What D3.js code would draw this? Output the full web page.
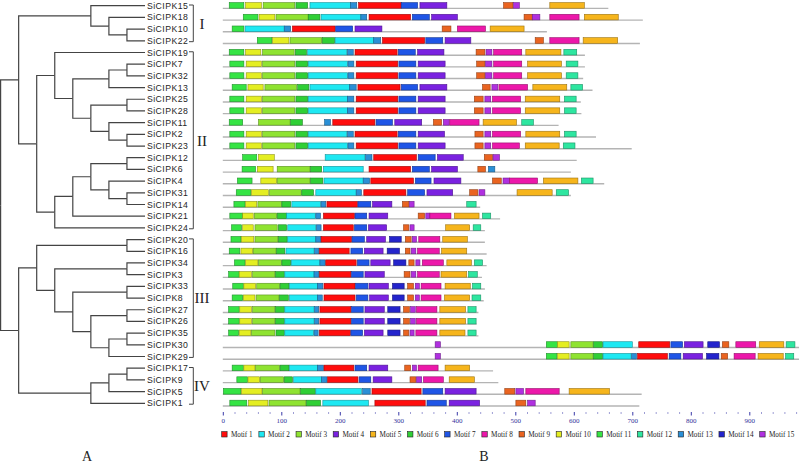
<!DOCTYPE html>
<html><head><meta charset="utf-8">
<script src="https://cdn.jsdelivr.net/npm/d3@7"></script>
<style>html,body{margin:0;padding:0;background:#fff;}svg{display:block;}</style>
</head><body>
<svg id="c" width="800" height="463"></svg>
<script>
// ---------- DATA ----------
const treeNewick = "(((SiCIPK15,(SiCIPK18,(SiCIPK10,SiCIPK22))),((SiCIPK19,(((SiCIPK7,SiCIPK32),SiCIPK13),((SiCIPK25,SiCIPK28),(SiCIPK11,(SiCIPK2,SiCIPK23))))),((((SiCIPK12,SiCIPK6),(SiCIPK4,(SiCIPK31,SiCIPK14))),SiCIPK21),SiCIPK24))),(((SiCIPK20,SiCIPK16),((SiCIPK34,SiCIPK3),((SiCIPK33,SiCIPK8),((SiCIPK27,SiCIPK26),((SiCIPK35,SiCIPK30),SiCIPK29))))),(((SiCIPK17,SiCIPK9),SiCIPK5),SiCIPK1)));";

const genes = ["SiCIPK15","SiCIPK18","SiCIPK10","SiCIPK22","SiCIPK19","SiCIPK7","SiCIPK32","SiCIPK13","SiCIPK25","SiCIPK28","SiCIPK11","SiCIPK2","SiCIPK23","SiCIPK12","SiCIPK6","SiCIPK4","SiCIPK31","SiCIPK14","SiCIPK21","SiCIPK24","SiCIPK20","SiCIPK16","SiCIPK34","SiCIPK3","SiCIPK33","SiCIPK8","SiCIPK27","SiCIPK26","SiCIPK35","SiCIPK30","SiCIPK29","SiCIPK17","SiCIPK9","SiCIPK5","SiCIPK1"];

const proteinLengths = [659,718,554,713,619,619,616,632,612,613,574,638,699,605,595,652,595,440,474,448,448,451,451,443,448,446,437,434,437,985,985,462,471,716,712];

// [motif number, start aa, end aa] for each gene, same order as genes
const motifSites = [
 [[11,11,36],[10,39,66],[3,69,123],[6,125,145],[2,149,218],[13,218,229],[1,232,305],[7,305,333],[4,337,383],[9,480,496],[15,497,507],[5,559,618]],
 [[11,35,60],[10,62,89],[3,91,146],[6,146,166],[2,168,236],[13,236,246],[1,250,321],[7,324,353],[4,357,401],[9,515,529],[15,529,542],[8,559,609],[5,618,676]],
 [[11,16,36],[2,38,105],[13,105,116],[1,119,192],[7,193,222],[4,226,272],[9,375,390],[8,401,449],[5,457,515]],
 [[11,59,84],[10,85,113],[3,115,169],[6,170,191],[2,192,258],[13,258,270],[1,273,345],[7,347,376],[4,380,424],[9,534,548],[8,559,609],[5,616,675]],
 [[11,11,36],[10,39,65],[3,68,122],[6,124,143],[2,145,212],[13,213,223],[1,226,298],[7,300,329],[4,333,378],[9,433,448],[15,450,460],[8,463,511],[5,518,578],[12,583,605]],
 [[11,12,36],[10,40,66],[3,68,123],[6,125,145],[2,146,213],[13,214,224],[1,228,299],[7,301,330],[4,334,380],[9,434,448],[15,449,460],[8,463,511],[5,521,579],[12,587,607]],
 [[11,12,36],[10,40,66],[3,68,123],[6,125,145],[2,146,213],[13,214,224],[1,228,299],[7,301,330],[4,334,380],[9,434,448],[15,449,460],[8,463,511],[5,521,579],[12,587,607]],
 [[11,16,40],[10,43,69],[3,72,126],[6,128,147],[2,149,217],[13,217,228],[1,231,303],[7,305,333],[4,337,383],[9,444,457],[15,460,470],[8,472,521],[5,530,588],[12,595,615]],
 [[11,12,36],[10,40,66],[3,68,123],[6,125,145],[2,146,213],[13,213,224],[1,228,299],[7,301,330],[4,334,380],[9,430,445],[15,448,458],[8,461,509],[5,517,576],[12,584,604]],
 [[11,12,36],[10,40,66],[3,68,123],[6,125,145],[2,146,213],[13,213,224],[1,228,299],[7,301,330],[4,334,380],[9,430,445],[15,448,458],[8,461,509],[5,517,576],[12,584,604]],
 [[11,11,34],[3,61,115],[6,116,136],[13,174,184],[1,188,260],[7,262,290],[4,294,340],[9,360,374],[15,377,387],[8,388,438],[5,445,502],[12,511,531]],
 [[11,12,36],[10,40,66],[3,68,123],[6,125,145],[2,146,212],[13,213,223],[1,226,298],[7,300,330],[4,334,379],[9,431,445],[15,448,458],[8,461,509],[5,518,576],[12,584,604]],
 [[11,12,36],[10,40,66],[3,68,123],[6,125,145],[2,146,213],[13,214,224],[1,228,299],[7,301,330],[4,334,380],[9,431,445],[15,448,458],[8,461,507],[5,517,575],[12,582,602]],
 [[11,34,58],[10,61,88],[2,175,243],[13,244,255],[1,258,331],[7,334,363],[4,367,411],[9,447,461],[15,462,473]],
 [[11,33,56],[10,59,86],[3,93,149],[6,150,169],[2,172,240],[1,250,321],[7,324,353],[4,357,401],[9,436,449],[13,454,465]],
 [[11,25,50],[10,65,92],[3,93,149],[6,150,171],[2,173,240],[13,240,251],[1,253,326],[7,329,356],[4,361,407],[9,461,476],[15,479,490],[8,490,538],[5,548,607],[12,613,633]],
 [[11,23,48],[10,49,78],[3,80,134],[6,135,155],[2,159,228],[13,228,237],[1,241,313],[7,316,345],[4,349,393],[9,422,436],[15,438,448],[5,503,563],[12,570,591]],
 [[11,19,38],[10,39,58],[3,60,100],[6,101,116],[2,118,167],[13,168,176],[1,178,230],[7,231,253],[4,256,289],[9,307,318],[15,319,327],[12,417,433]],
 [[11,12,34],[10,34,52],[3,54,92],[6,93,109],[2,109,158],[13,159,167],[1,172,225],[7,226,246],[4,250,282],[9,334,345],[15,347,354],[8,354,390],[5,396,438],[12,444,458]],
 [[11,15,32],[10,34,52],[3,55,93],[6,95,109],[2,111,159],[13,160,168],[1,172,223],[7,225,246],[4,249,280],[9,309,318],[15,320,327],[5,381,422],[12,428,441]],
 [[11,14,31],[10,32,53],[3,55,94],[6,95,110],[2,111,159],[13,159,168],[1,168,220],[7,221,242],[4,246,278],[14,285,305],[9,312,322],[15,324,331],[8,335,371],[5,376,418]],
 [[11,11,29],[10,31,51],[3,52,91],[6,92,106],[2,108,156],[13,157,164],[1,165,216],[7,219,239],[4,242,274],[14,281,302],[9,312,320],[15,322,330],[8,333,370],[5,374,417]],
 [[11,20,38],[10,39,60],[3,61,100],[6,101,116],[2,117,166],[13,166,175],[1,176,228],[7,230,250],[4,253,286],[14,292,313],[9,318,327],[15,330,337],[8,341,377],[5,383,425],[12,430,444]],
 [[11,10,28],[10,28,49],[3,51,89],[6,90,105],[2,106,156],[13,156,164],[1,165,219],[7,220,240],[4,243,276],[9,310,320],[15,322,330],[8,333,370],[5,373,417],[12,420,435]],
 [[11,17,35],[10,36,56],[3,58,97],[6,98,113],[2,114,162],[13,162,171],[1,173,226],[7,227,248],[4,250,283],[14,290,310],[9,316,326],[15,329,336],[8,339,373],[5,380,423],[12,427,441]],
 [[11,16,34],[10,35,55],[3,57,96],[6,97,112],[2,114,162],[13,162,170],[1,173,226],[7,228,248],[4,251,283],[14,290,310],[9,316,326],[15,329,336],[8,339,373],[5,379,422],[12,426,441]],
 [[11,10,28],[10,29,49],[3,51,89],[6,90,105],[2,106,156],[13,157,164],[1,166,219],[7,220,240],[4,243,276],[14,282,303],[9,309,319],[15,321,329],[8,331,366],[5,371,415],[12,419,433]],
 [[11,10,28],[10,29,49],[3,51,89],[6,90,105],[2,106,156],[13,157,164],[1,166,219],[7,220,240],[4,243,276],[14,282,303],[9,309,319],[15,321,329],[8,331,366],[5,371,415],[12,419,433]],
 [[11,10,27],[10,28,48],[3,49,89],[6,91,105],[2,106,155],[13,156,163],[1,165,218],[7,219,239],[4,242,274],[14,282,303],[9,309,318],[15,320,327],[8,330,366],[5,371,414],[12,419,433]],
 [[15,363,372],[11,553,572],[10,572,592],[3,595,633],[6,634,649],[2,650,700],[1,711,764],[7,766,786],[4,789,821],[14,829,849],[9,854,865],[8,877,911],[5,917,959],[12,963,978]],
 [[15,363,372],[11,553,571],[10,572,592],[3,595,633],[6,634,649],[2,650,698],[13,699,707],[1,709,760],[7,763,783],[4,787,820],[14,827,848],[9,852,863],[8,874,910],[5,915,958],[12,962,976]],
 [[11,16,35],[10,36,55],[3,56,97],[6,98,113],[2,114,162],[13,162,172],[1,173,224],[7,226,246],[4,250,282],[9,311,321],[15,324,331],[8,334,368],[5,380,422]],
 [[11,24,42],[10,43,63],[3,64,104],[6,105,119],[2,121,169],[13,169,178],[1,179,231],[7,233,253],[4,257,289],[9,320,330],[15,331,340],[8,343,377],[5,387,430]],
 [[11,1,31],[10,32,67],[3,68,132],[6,133,158],[2,159,237],[13,239,252],[1,255,339],[7,342,376],[4,380,433],[9,482,499],[15,501,514],[8,518,575],[5,592,661]],
 [[11,12,41],[10,44,77],[3,79,142],[6,143,167],[2,171,249],[1,260,346],[7,349,382],[4,387,439],[9,501,518],[15,521,534]]
];

const motifNames = ["Motif 1","Motif 2","Motif 3","Motif 4","Motif 5","Motif 6","Motif 7","Motif 8","Motif 9","Motif 10","Motif 11","Motif 12","Motif 13","Motif 14","Motif 15"];
const axisTicks = [0,100,200,300,400,500,600,700,800,900];
const cladeNames = ["I","II","III","IV"];
const cladeFirst = ["SiCIPK15","SiCIPK19","SiCIPK20","SiCIPK17"];
const cladeLast = ["SiCIPK22","SiCIPK24","SiCIPK29","SiCIPK1"];

// ---------- STYLE ----------
const motifColors = ["#ff0d0d","#1ee8f2","#8fe331","#7a22e0","#f6b51c","#2fcf35","#1f55e6","#ec18aa","#ea6420","#e4ee22","#35e444","#2ee6a0","#2a8fd6","#2424cc","#b030e0"];

const svg = d3.select("#c");

// ---------- TREE ----------
function parseNewick(s){
  let i=0;
  function node(){
    if(s[i]==='('){
      i++; const ch=[node()];
      while(s[i]===','){ i++; ch.push(node()); }
      i++; return {children:ch};
    }
    let name='';
    while(i<s.length && !",();".includes(s[i])) name+=s[i++];
    return {name};
  }
  return node();
}
const root = d3.hierarchy(parseNewick(treeNewick));
d3.cluster().size([1,1]).separation(()=>1)(root);
const leaves = root.leaves();
const rowY = d3.scalePoint().domain(genes).range([5.7,403.3]);
const treeY = d3.scaleLinear().domain([leaves[0].x, leaves[leaves.length-1].x]).range([5.7,403.3]);
const treeX = d3.scaleLinear().domain([0,1]).range([0.6,145]);

const gTree = svg.append("g");
gTree.selectAll("path").data(root.links()).join("path")
  .attr("d", l => `M${treeX(l.source.y)},${treeY(l.source.x)}V${treeY(l.target.x)}H${treeX(l.target.y)}`)
  .attr("fill","none").attr("stroke","#444").attr("stroke-width",1.2);

gTree.selectAll("text").data(genes).join("text")
  .attr("x",147).attr("y",d=>rowY(d)).attr("dy","0.35em")
  .attr("font-family","Liberation Sans, Arial, sans-serif").attr("font-size",8.7)
  .attr("letter-spacing",0.45).attr("fill","#262626").text(d=>d);

// clade brackets
const gBr = svg.append("g").attr("stroke","#444").attr("stroke-width",1).attr("fill","none");
cladeNames.forEach((c,i)=>{
  const y0 = rowY(cladeFirst[i]) - 0.7, y1 = rowY(cladeLast[i]) + 0.9;
  gBr.append("path").attr("d",`M189,${y0}H193.3V${y1}H189`);
  svg.append("text").attr("x",202).attr("y",(y0+y1)/2).attr("dy","0.35em")
    .attr("text-anchor","middle").attr("font-family","Liberation Serif, Times New Roman, serif")
    .attr("font-size",15).attr("fill","#222").text(c);
});

// ---------- MOTIFS ----------
const xAA = d3.scaleLinear().domain([0,900]).range([222.8,749.3]);
const color = d3.scaleOrdinal().domain(d3.range(1,16)).range(motifColors);
const gM = svg.append("g");
gM.selectAll("line").data(genes).join("line")
  .attr("x1",xAA(0)).attr("x2",(d,i)=>xAA(proteinLengths[i]))
  .attr("y1",d=>rowY(d)+2.7).attr("y2",d=>rowY(d)+2.7)
  .attr("stroke","#b4b4b4").attr("stroke-width",1.4);
const rows = gM.selectAll("g.row").data(genes).join("g").attr("class","row");
rows.each(function(g,i){
  d3.select(this).selectAll("rect").data(motifSites[i]).join("rect")
    .attr("x",d=>xAA(d[1])).attr("width",d=>xAA(d[2])-xAA(d[1]))
    .attr("y",rowY(g)-3.1).attr("height",5.6)
    .attr("fill",d=>color(d[0]))
    .attr("stroke",d=>d3.color(color(d[0])).darker(1.3))
    .attr("stroke-width",0.6);
});

// ---------- AXIS ----------
const gAx = svg.append("g").attr("transform","translate(0,412)");
const minor = d3.axisBottom(xAA).tickValues(d3.range(0,981,20).filter(v=>v%100!==0)).tickSize(1).tickFormat("");
gAx.append("g").call(minor).call(g=>g.select(".domain").remove())
  .selectAll("line").attr("stroke","#3a3aa8").attr("stroke-width",1).attr("transform","translate(0,0.5)");
const major = d3.axisBottom(xAA).tickValues(axisTicks).tickSize(3.5).tickPadding(2.5);
gAx.append("g").call(major).call(g=>g.select(".domain").remove())
  .call(g=>g.selectAll("line").attr("stroke","#3a3aa8").attr("stroke-width",1))
  .call(g=>g.selectAll("text").attr("fill","#33339a").attr("font-family","Liberation Serif, Times New Roman, serif").attr("font-size",7));

// ---------- LEGEND ----------
const gL = svg.append("g");
let lx = 221.7;
const gap = 6.2;
motifNames.forEach((m,i)=>{
  gL.append("rect").attr("x",lx).attr("y",431.6).attr("width",5.4).attr("height",5.4)
    .attr("fill",motifColors[i]).attr("stroke","#222").attr("stroke-width",0.6);
  const t = gL.append("text").attr("x",lx+9.2).attr("y",434.4).attr("dy","0.35em")
    .attr("font-family","Liberation Serif, Times New Roman, serif").attr("font-size",7.2)
    .attr("fill","#222").text(m);
  lx += 9.2 + t.node().getComputedTextLength() + gap;
});

// ---------- PANEL LETTERS ----------
svg.append("text").attr("x",87).attr("y",461).attr("text-anchor","middle")
  .attr("font-family","Liberation Serif, Times New Roman, serif").attr("font-size",14).attr("fill","#222").text("A");
svg.append("text").attr("x",484).attr("y",461).attr("text-anchor","middle")
  .attr("font-family","Liberation Serif, Times New Roman, serif").attr("font-size",14).attr("fill","#222").text("B");
</script>
</body></html>
